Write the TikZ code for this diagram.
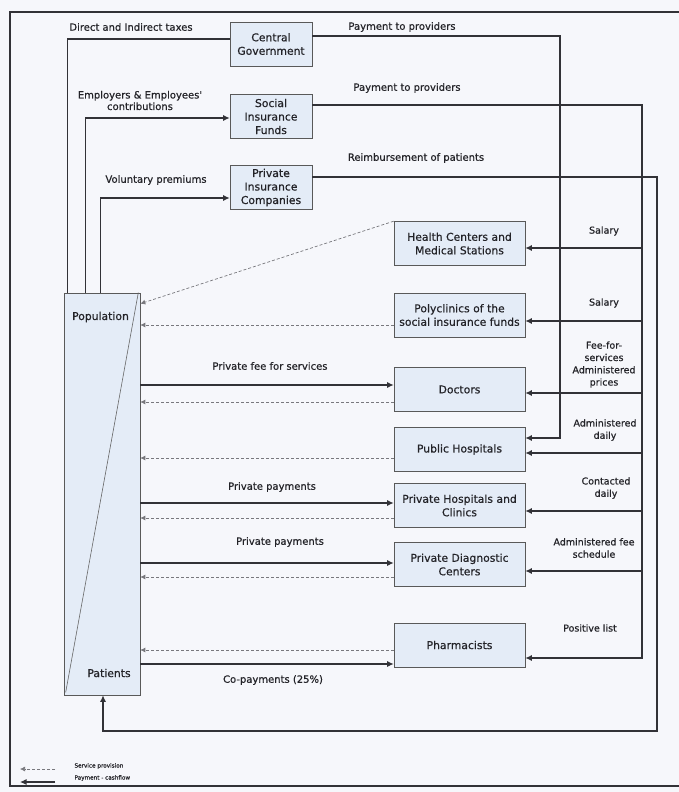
\documentclass[tikz,border=0pt]{standalone}
\usepackage{fontspec}
\setmainfont{DejaVu Sans}
\newfontfamily\heavy{DejaVu Sans}[FakeBold=0.6]
\usetikzlibrary{arrows.meta,calc}
\definecolor{bg}{RGB}{246,247,251}
\definecolor{boxfill}{RGB}{228,236,247}
\definecolor{ln}{RGB}{50,50,55}
\definecolor{dl}{RGB}{120,120,125}
\definecolor{txt}{RGB}{35,35,40}
\begin{document}
\begin{tikzpicture}[x=1pt,y=-1pt,
  box/.style={draw=black!65, line width=0.6pt, fill=boxfill, minimum width=131pt, minimum height=44pt,
    inner sep=1pt, align=center, text=txt, font=\heavy\fontsize{10.8}{13.5}\selectfont},
  fbox/.style={box, minimum width=82pt},
  pay/.style={draw=ln, line width=1.1pt, -{Latex[length=6.5pt,width=6pt]}},
  pline/.style={draw=ln, line width=1.1pt},
  svc/.style={draw=dl, line width=0.7pt, dash pattern=on 3pt off 2pt, -{Latex[length=5pt,width=5pt]}},
  lbl/.style={text=txt, align=center, font=\heavy\fontsize{10}{11.5}\selectfont},
  rlbl/.style={text=txt, align=center, font=\heavy\fontsize{9.5}{12.3}\selectfont},
  jdot/.style={circle, fill=ln, inner sep=0pt, minimum size=3.2pt},
  frame/.style={draw=ln, line width=1.2pt},
  leg/.style={text=txt, anchor=west, font=\heavy\fontsize{5.7}{7}\selectfont}]
\fill[bg] (0,0) rectangle (679,792);
\useasboundingbox (0,0) rectangle (679,792);

% outer frame
\draw[frame] (679,12) -- (10,12) -- (10,786) -- (679,786);

% funders
\node[fbox] (cg)  at (271,44)    {Central\\Government};
\node[fbox] (sif) at (271,116.5) {Social\\Insurance\\Funds};
\node[fbox] (pic) at (271,187.5) {Private\\Insurance\\Companies};

% providers
\node[box] (hc)   at (459.5,243.5) {Health Centers and\\Medical Stations};
\node[box] (poly) at (459.5,315)   {Polyclinics of the\\social insurance funds};
\node[box] (doc)  at (459.5,389.5) {Doctors};
\node[box] (ph)   at (459.5,449.5) {Public Hospitals};
\node[box] (prh)  at (459.5,505.5) {Private Hospitals and\\Clinics};
\node[box] (pdc)  at (459.5,564.5) {Private Diagnostic\\Centers};
\node[box] (phm)  at (459.5,645)   {Pharmacists};

% population
\node[draw=black!65, line width=0.6pt, fill=boxfill, minimum width=76pt, minimum height=402pt, inner sep=0pt] (pop) at (102,494) {};
\draw[draw=black!60, line width=0.6pt] ([xshift=-2pt]pop.north east) -- ([xshift=2pt,yshift=3pt]pop.south west);
\node[text=txt, font=\heavy\fontsize{10.8}{13}\selectfont] (popl) at (100.5,317) {Population};
\node[text=txt, font=\heavy\fontsize{10.8}{13}\selectfont] (patl) at (109,673) {Patients};

% column coordinates
\coordinate (c1) at (560,0);
\coordinate (c2) at (642,0);
\coordinate (c3) at (657,0);
\coordinate (cb) at (0,731);

% contributions into funders
\draw[pline] ([xshift=4pt]pop.north west) |- ([yshift=5pt]cg.west);
\draw[pay] ([xshift=22pt]pop.north west) |- ([yshift=-1.5pt]sif.west);
\draw[pay] ([xshift=37pt]pop.north west) |- ([yshift=-10.5pt]pic.west);

% right-side payment coordinates
\coordinate (cgE)  at ([yshift=8pt]cg.east);
\coordinate (sifE) at ([yshift=11.5pt]sif.east);
\coordinate (picE) at ([yshift=10.5pt]pic.east);
\coordinate (phA)  at ([yshift=11.5pt]ph.east);
\coordinate (hcA)  at ([yshift=-4.5pt]hc.east);
\coordinate (polyA) at ([yshift=-6pt]poly.east);
\coordinate (docA) at ([yshift=-3.5pt]doc.east);
\coordinate (phB)  at ([yshift=-3.5pt]ph.east);
\coordinate (prhA) at ([yshift=-5.5pt]prh.east);
\coordinate (pdcA) at ([yshift=-6.5pt]pdc.east);
\coordinate (phmA) at ([yshift=-13pt]phm.east);

% central government -> public hospitals
\draw[pay] (cgE) -| (phA -| c1) -- (phA);
% social insurance funds -> providers
\draw[pay] (sifE) -| (phmA -| c2) -- (phmA);
\draw[pay] (hcA -| c2) -- (hcA);
\draw[pay] (polyA -| c2) -- (polyA);
\draw[pay] (docA -| c2) -- (docA);
\draw[pay] (phB -| c2) -- (phB);
\draw[pay] (prhA -| c2) -- (prhA);
\draw[pay] (pdcA -| c2) -- (pdcA);
% private insurance -> patients
\draw[pay] (picE) -| (c3 |- cb) -| ([xshift=1pt]pop.south);

% junction dots
\node[jdot] (j1) at (c1 |- sifE) {};
\node[jdot] (j2) at (c1 |- picE) {};
\node[jdot] (j3) at (c2 |- picE) {};
\node[jdot] (j4) at (c1 |- hcA) {};
\node[jdot] (j5) at (c1 |- polyA) {};
\node[jdot] (j6) at (c1 |- docA) {};

% left side flows
\coordinate (hcT)   at ([yshift=-11pt]pop.north east);
\coordinate (polyB) at ([yshift=-10pt]poly.west);
\coordinate (docP)  at ([yshift=4.5pt]doc.west);
\coordinate (docB)  at ([yshift=-12.5pt]doc.west);
\coordinate (phL)   at ([yshift=-8.5pt]ph.west);
\coordinate (prhP)  at ([yshift=2.5pt]prh.west);
\coordinate (prhB)  at ([yshift=-12.5pt]prh.west);
\coordinate (pdcP)  at ([yshift=1.5pt]pdc.west);
\coordinate (pdcB)  at ([yshift=-12.5pt]pdc.west);
\coordinate (phmB)  at ([yshift=-5pt]phm.west);
\coordinate (phmP)  at ([yshift=-19pt]phm.west);

\draw[svc] (hc.north west) -- (hcT);
\draw[svc] (polyB) -- (polyB -| pop.east);
\draw[pay] (docP -| pop.east) -- (docP);
\draw[svc] (docB) -- (docB -| pop.east);
\draw[svc] (phL) -- (phL -| pop.east);
\draw[pay] (prhP -| pop.east) -- (prhP);
\draw[svc] (prhB) -- (prhB -| pop.east);
\draw[pay] (pdcP -| pop.east) -- (pdcP);
\draw[svc] (pdcB) -- (pdcB -| pop.east);
\draw[svc] (phmB) -- (phmB -| pop.east);
\draw[pay] (phmP -| pop.east) -- (phmP);

% labels
\node[lbl] (l1) at (131,27) {Direct and Indirect taxes};
\node[lbl] (l2) at (402,27) {Payment to providers};
\node[lbl] (l3) at (140,100.5) {Employers \& Employees'\\contributions};
\node[lbl] (l4) at (407,88) {Payment to providers};
\node[lbl] (l5) at (156,180) {Voluntary premiums};
\node[lbl] (l6) at (416,158) {Reimbursement of patients};
\node[lbl] (l7) at (270,366) {Private fee for services};
\node[lbl] (l8) at (272,487) {Private payments};
\node[lbl] (l9) at (280,542) {Private payments};
\node[lbl] (l10) at (273,680) {Co-payments (25\%)};

\node[rlbl] (r1) at (604,231) {Salary};
\node[rlbl] (r2) at (604,303) {Salary};
\node[rlbl] (r3) at (604,364.5) {Fee-for-\\services\\Administered\\prices};
\node[rlbl] (r4) at (605,430) {Administered\\daily};
\node[rlbl] (r5) at (606,488) {Contacted\\daily};
\node[rlbl] (r6) at (594,548) {Administered fee\\schedule};
\node[rlbl] (r7) at (590,628) {Positive list};

% legend
\coordinate (lg1a) at (55,769);
\coordinate (lg1b) at (20,769);
\coordinate (lg2a) at (55,782);
\coordinate (lg2b) at (20,782);
\draw[svc] (lg1a) -- (lg1b);
\draw[pay] (lg2a) -- (lg2b);
\node[leg] (lt1) at (71,766) {Service provision};
\node[leg] (lt2) at (71,778) {Payment - cashflow};
\end{tikzpicture}
\end{document}
